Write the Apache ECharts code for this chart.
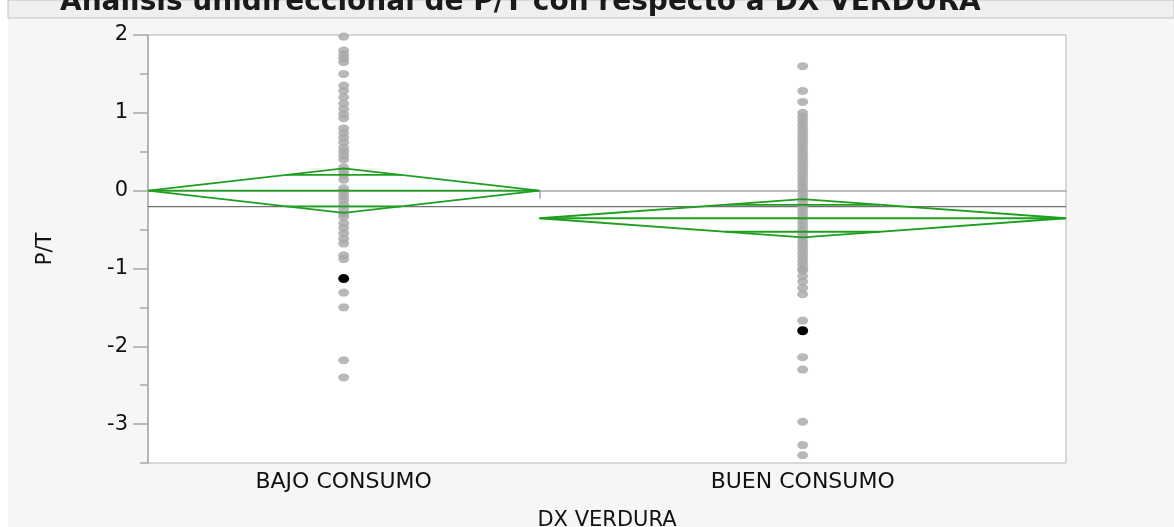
<!DOCTYPE html>
<html>
<head>
<meta charset="utf-8">
<script src="https://cdn.jsdelivr.net/npm/echarts@6/dist/echarts.min.js"></script>
<style>
  html, body { margin: 0; padding: 0; background: #f6f6f6; }
  #chart { width: 1174px; height: 527px; }
</style>
</head>
<body>
<div id="chart"></div>
<script>
// ---- data ----
const titleText = 'Análisis unidireccional de P/T con respecto a DX VERDURA';
const categories = ['BAJO CONSUMO', 'BUEN CONSUMO'];
const groupN = [55, 74];
const groupMean = [0.0, -0.355];
const groupCI = [0.285, 0.245];
const grandMean = -0.205;
const yTickLabels = [-3, -2, -1, 0, 1, 2];
const yMinorTicks = [-3.5, -2.5, -1.5, -0.5, 0.5, 1.5];

const bajoValues = [1.98, 1.8, 1.75, 1.7, 1.65, 1.5, 1.35, 1.28, 1.2, 1.12, 1.05, 0.98, 0.93,
  0.8, 0.74, 0.68, 0.62, 0.55, 0.5, 0.45, 0.4, 0.3, 0.25, 0.2, 0.14, 0.03, -0.02, -0.07,
  -0.12, -0.18, -0.24, -0.3, -0.34, -0.42, -0.48, -0.55, -0.62, -0.68, -0.83, -0.88,
  -1.31, -1.5, -2.18, -2.4];
const bajoSelected = [-1.13];

const buenValues = [1.6, 1.28, 1.14, 1.0, 0.95, 0.9, 0.85, 0.8, 0.75, 0.7, 0.65, 0.6, 0.55,
  0.5, 0.45, 0.4, 0.35, 0.3, 0.25, 0.2, 0.15, 0.1, 0.05, 0.0, -0.05, -0.1, -0.15, -0.2,
  -0.25, -0.3, -0.35, -0.4, -0.45, -0.5, -0.55, -0.6, -0.65, -0.7, -0.75, -0.8, -0.85,
  -0.9, -0.95, -1.0, -1.03, -1.1, -1.17, -1.25, -1.33, -1.67, -2.14, -2.3, -2.97, -3.27, -3.4];
const buenSelected = [-1.8];

// ---- build ----
const groupValues = [bajoValues, buenValues];
const groupSel = [bajoSelected, buenSelected];
const total = groupN.reduce((a, b) => a + b, 0);
const starts = [], ends = [], centers = [];
let acc = 0;
groupN.forEach(n => { starts.push(acc); centers.push(acc + n / 2); acc += n; ends.push(acc); });

const green = '#1f9f1f';
const lw = 1.8;
const series = [];

series.push({
  type: 'line', data: [[0, grandMean], [total, grandMean]], symbol: 'none', silent: true,
  lineStyle: { color: '#707070', width: 1.3 }, z: 2, animation: false
});

categories.forEach((c, i) => {
  const m = groupMean[i], ci = groupCI[i], x0 = starts[i], x1 = ends[i], xc = centers[i];
  const half = (x1 - x0) / 2;
  const ov = ci / Math.SQRT2;
  const frac = 1 - ov / ci;
  series.push({
    type: 'line', symbol: 'none', silent: true, animation: false, z: 4,
    data: [[x0, m], [xc, m + ci], [x1, m], [xc, m - ci], [x0, m]],
    lineStyle: { color: green, width: lw }
  });
  series.push({
    type: 'line', symbol: 'none', silent: true, animation: false, z: 4,
    data: [[x0, m], [x1, m]], lineStyle: { color: green, width: lw }
  });
  [m + ov, m - ov].forEach(y => {
    series.push({
      type: 'line', symbol: 'none', silent: true, animation: false, z: 4,
      data: [[xc - half * frac, y], [xc + half * frac, y]], lineStyle: { color: green, width: lw }
    });
  });
  series.push({
    type: 'scatter', symbol: 'circle', symbolSize: [11, 8], animation: false, z: 3,
    itemStyle: { color: '#a6a6a6' },
    data: groupValues[i].map(v => [xc, v])
  });
  series.push({
    type: 'scatter', symbol: 'circle', symbolSize: [11, 9], animation: false, z: 5,
    itemStyle: { color: '#000000', opacity: 1 },
    data: groupSel[i].map(v => [xc, v])
  });
});

const chart = echarts.init(document.getElementById('chart'), null, { renderer: 'canvas' });
const font = 'DejaVu Sans';
chart.setOption({
  backgroundColor: '#f6f6f6',
  textStyle: { fontFamily: font },
  graphic: [
    { type: 'rect', z: 1, shape: { x: 0, y: 0, width: 8, height: 527 }, style: { fill: '#ffffff' }, silent: true },
    { type: 'rect', z: 1, shape: { x: 8, y: 0, width: 1166, height: 18 }, style: { fill: '#efefef', stroke: '#c4c4c4', lineWidth: 1 }, silent: true },
    { type: 'text', z: 10, left: 60, top: -11, silent: true,
      style: { text: titleText, font: 'bold 28px "DejaVu Sans"', fill: '#1a1a1a' } }
  ],
  grid: { left: 148, right: 108, top: 35, bottom: 64, outerBoundsMode: 'none', show: true, backgroundColor: '#ffffff', borderColor: '#b5b5b5', borderWidth: 1 },
  xAxis: {
    type: 'value', min: 0, max: total,
    name: 'DX VERDURA', nameLocation: 'middle', nameGap: 47,
    nameTextStyle: { fontFamily: font, fontSize: 21, color: '#111111' },
    axisLine: { show: true, lineStyle: { color: '#a8a8a8', width: 1.5 } },
    axisTick: { show: true, customValues: [ends[0]], length: 8, lineStyle: { color: '#a8a8a8', width: 1.5 } },
    axisLabel: {
      customValues: centers, margin: 8, fontFamily: font, fontSize: 22, color: '#111111',
      formatter: v => { const k = centers.findIndex(c => Math.abs(c - v) < 1e-6); return k >= 0 ? categories[k] : ''; }
    },
    splitLine: { show: false }
  },
  yAxis: [
    {
      type: 'value', min: -3.5, max: 2,
      name: 'P/T', nameLocation: 'middle', nameGap: 92,
      nameTextStyle: { fontFamily: font, fontSize: 21, color: '#111111' },
      axisLine: { show: true, lineStyle: { color: '#a8a8a8', width: 1.5 } },
      axisTick: { show: true, customValues: yTickLabels, length: 15, lineStyle: { color: '#a8a8a8', width: 1.5 } },
      axisLabel: { customValues: yTickLabels, margin: 20, fontFamily: font, fontSize: 21, color: '#111111' },
      splitLine: { show: false }
    },
    {
      type: 'value', min: -3.5, max: 2, position: 'left',
      axisLine: { show: false },
      axisTick: { show: true, customValues: yMinorTicks, length: 8, lineStyle: { color: '#a8a8a8', width: 1.5 } },
      axisLabel: { show: false },
      splitLine: { show: false }
    }
  ],
  series: series
});
</script>
</body>
</html>
